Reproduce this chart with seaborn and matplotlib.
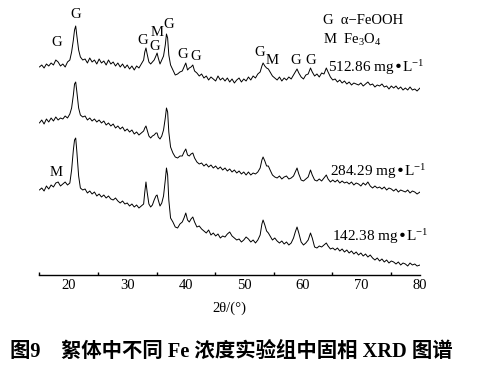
import numpy as np
import pandas as pd
import matplotlib
matplotlib.use("Agg")
import matplotlib.pyplot as plt
import seaborn as sns

# 2θ grid (denser around the reflections)
two_theta = [
    15.0, 15.4, 15.8, 16.2, 16.6, 17.0, 17.4, 17.8, 18.2, 18.6,
    19.0, 19.4, 19.8, 20.2, 20.5, 20.8, 21.0, 21.2, 21.4, 21.7,
    22.0, 22.4, 22.8, 23.2, 23.6, 24.0, 24.4, 24.8, 25.2, 25.6,
    26.0, 26.4, 26.8, 27.2, 27.6, 28.0, 28.4, 28.8, 29.2, 29.6,
    30.0, 30.4, 30.8, 31.2, 31.6, 32.0, 32.4, 32.8, 33.0, 33.2,
    33.4, 33.7, 34.0, 34.3, 34.6, 34.9, 35.1, 35.3, 35.6, 35.9,
    36.2, 36.5, 36.7, 36.9, 37.1, 37.4, 37.8, 38.2, 38.6, 39.0,
    39.4, 39.7, 40.0, 40.3, 40.6, 40.9, 41.2, 41.5, 41.9, 42.3,
    42.7, 43.1, 43.5, 43.9, 44.3, 44.7, 45.1, 45.5, 45.9, 46.3,
    46.7, 47.1, 47.5, 47.9, 48.3, 48.7, 49.1, 49.5, 49.9, 50.3,
    50.7, 51.1, 51.5, 51.9, 52.3, 52.7, 53.0, 53.2, 53.5, 53.8,
    54.1, 54.4, 54.8, 55.2, 55.6, 56.0, 56.4, 56.8, 57.2, 57.6,
    58.0, 58.4, 58.7, 59.0, 59.3, 59.7, 60.1, 60.5, 60.9, 61.3,
    61.6, 62.0, 62.4, 62.8, 63.2, 63.6, 64.0, 64.3, 64.7, 65.1,
    65.5, 65.9, 66.3, 66.7, 67.1, 67.5, 67.9, 68.3, 68.7, 69.1,
    69.5, 69.9, 70.3, 70.7, 71.1, 71.5, 71.9, 72.3, 72.7, 73.1,
    73.5, 73.9, 74.3, 74.7, 75.1, 75.5, 75.9, 76.3, 76.7, 77.1,
    77.5, 77.9, 78.3, 78.7, 79.1, 79.5, 80.0,
]

# stacked intensities (a.u.)
i_512 = [
    208, 210, 207, 211, 209, 212, 210, 215, 213, 209,
    211, 208, 213, 215, 223, 235, 245, 249, 239, 225,
    218, 215, 216, 212, 217, 213, 215, 211, 216, 212,
    214, 210, 215, 211, 213, 209, 212, 208, 211, 207,
    210, 206, 209, 205, 209, 207, 211, 215, 223, 227,
    221, 213, 211, 213, 215, 219, 222, 217, 211, 215,
    219, 230, 241, 237, 220, 210, 205, 200, 201, 203,
    204, 208, 212, 205, 207, 208, 210, 204, 202, 199,
    201, 197, 199, 195, 198, 196, 194, 199, 195, 197,
    194, 197, 193, 196, 192, 195, 197, 193, 196, 194,
    198, 195, 199, 197, 201, 203, 209, 212, 209, 207,
    206, 203, 199, 197, 195, 198, 194, 197, 195, 198,
    196, 200, 203, 206, 202, 198, 196, 200, 201, 207,
    203, 199, 201, 198, 202, 201, 207, 203, 198, 195,
    196, 193, 195, 192, 194, 191, 193, 190, 192, 191,
    190, 192, 189, 191, 193, 190, 191, 188, 190, 189,
    191, 188, 189, 186, 189, 187, 189, 186, 188, 185,
    187, 185, 188, 185, 186, 184, 187,
]

i_284 = [
    152, 155, 151, 156, 153, 157, 154, 158, 155, 157,
    156, 159, 157, 161, 167, 180, 191, 193, 183, 167,
    160, 158, 159, 155, 157, 154, 156, 153, 155, 152,
    154, 150, 152, 149, 151, 147, 149, 146, 148, 144,
    146, 143, 145, 141, 143, 140, 142, 144, 147, 149,
    145, 139, 137, 139, 140, 142, 142, 138, 136, 139,
    145, 157, 167, 163, 143, 128, 122, 118, 117, 119,
    119, 123, 126, 120, 119, 121, 122, 117, 113, 111,
    112, 109, 111, 108, 110, 107, 109, 106, 108, 105,
    107, 104, 106, 103, 105, 102, 104, 101, 103, 100,
    103, 100, 102, 101, 103, 107, 115, 118, 114, 109,
    109, 105, 100, 98, 97, 99, 96, 98, 99, 96,
    97, 99, 103, 107, 101, 95, 94, 96, 98, 105,
    100, 95, 94, 96, 94, 97, 100, 96, 93, 95,
    93, 95, 92, 94, 92, 93, 91, 93, 90, 92,
    91, 89, 92, 90, 93, 89, 87, 89, 87, 88,
    86, 88, 85, 87, 86, 84, 86, 83, 85, 84,
    83, 85, 82, 84, 83, 81, 83,
]

i_142 = [
    85, 87, 84, 89, 86, 90, 88, 92, 93, 89,
    91, 93, 90, 92, 105, 125, 135, 137, 123, 99,
    87, 85, 86, 82, 84, 81, 83, 79, 81, 78,
    80, 77, 79, 76, 75, 77, 74, 72, 74, 71,
    72, 69, 71, 68, 70, 67, 69, 71, 83, 93,
    83, 71, 68, 70, 75, 79, 80, 75, 69, 72,
    79, 95, 107, 100, 75, 57, 53, 48, 47, 51,
    53, 57, 62, 55, 53, 56, 58, 53, 48, 49,
    46, 44, 42, 45, 40, 42, 39, 41, 37, 39,
    38, 41, 43, 39, 37, 35, 36, 33, 35, 38,
    36, 33, 35, 32, 35, 40, 51, 55, 50, 44,
    42, 39, 35, 37, 34, 32, 34, 31, 33, 30,
    32, 37, 43, 48, 42, 33, 30, 32, 35, 42,
    37, 28, 27, 29, 28, 30, 32, 29, 26, 27,
    25, 27, 24, 26, 23, 25, 22, 24, 21, 23,
    20, 22, 19, 21, 18, 20, 17, 15, 17, 14,
    16, 13, 15, 12, 14, 13, 11, 13, 10, 12,
    11, 9, 12, 10, 11, 9, 10,
]

sample_labels = ["512.86 mg•L$^{-1}$", "284.29 mg•L$^{-1}$", "142.38 mg•L$^{-1}$"]
label_pos = [(64.3, 207), (64.6, 103), (64.9, 38)]

# phase marks: (text, 2θ, height)
peak_marks = [
    ("G", 18.0, 232), ("G", 21.25, 260), ("G", 32.7, 235), ("M", 35.1, 242),
    ("G", 34.75, 228), ("G", 37.0, 250), ("G", 39.5, 221), ("G", 41.75, 219),
    ("G", 52.7, 223), ("M", 54.7, 215), ("G", 58.8, 215), ("G", 61.35, 215),
    ("M", 17.85, 102),
]

sns.set_theme(style="white")
plt.rcParams["font.family"] = ["Liberation Serif", "Noto Sans CJK SC", "DejaVu Sans"]
plt.rcParams["mathtext.default"] = "regular"

fig = plt.figure(figsize=(4.82, 3.76), dpi=100)
ax = fig.add_axes([39.4 / 482, 1 - 275 / 376, (420 - 39.4) / 482, 275 / 376])

for vals in (i_512, i_284, i_142):
    df = pd.DataFrame({"tt": two_theta, "I": vals})
    sns.lineplot(data=df, x="tt", y="I", ax=ax, color="black", lw=0.7,
                 sort=False, estimator=None)

ax.set_xlim(15, 80)
ax.set_ylim(0, 275)
for s in ("left", "right", "top"):
    ax.spines[s].set_visible(False)
ax.spines["bottom"].set_color("black")
ax.spines["bottom"].set_linewidth(1.0)
ax.set_xticks(range(20, 81, 10))
ax.set_xticks(range(15, 81, 5), minor=True)
ax.tick_params(axis="x", which="major", direction="in", length=4.5, width=1,
               color="black", labelsize=10.5, labelcolor="black", pad=3)
ax.tick_params(axis="x", which="minor", direction="in", length=2.5, width=1,
               color="black", bottom=True)
ax.set_yticks([])
ax.set_xlabel("2θ/(°)", fontsize=10.5, color="black", labelpad=7)
ax.set_ylabel("")

for txt, x, y in peak_marks:
    ax.text(x, y, txt, fontsize=10.5, ha="center", va="center", color="black")

for txt, (x, y) in zip(sample_labels, label_pos):
    ax.text(x, y, txt, fontsize=11, ha="left", va="center", color="black")

ax.text(63.4, 255, "G  α−FeOOH", fontsize=10.5, ha="left", va="center", color="black")
ax.text(63.4, 235, "M  Fe$_3$O$_4$", fontsize=10.5, ha="left", va="center", color="black")

fig.text(10 / 482, 1 - 352 / 376, "图9　絮体中不同 Fe 浓度实验组中固相 XRD 图谱",
         fontsize=14.7, fontweight="bold", ha="left", va="center", color="black")

fig.savefig("out.png", dpi=100)
